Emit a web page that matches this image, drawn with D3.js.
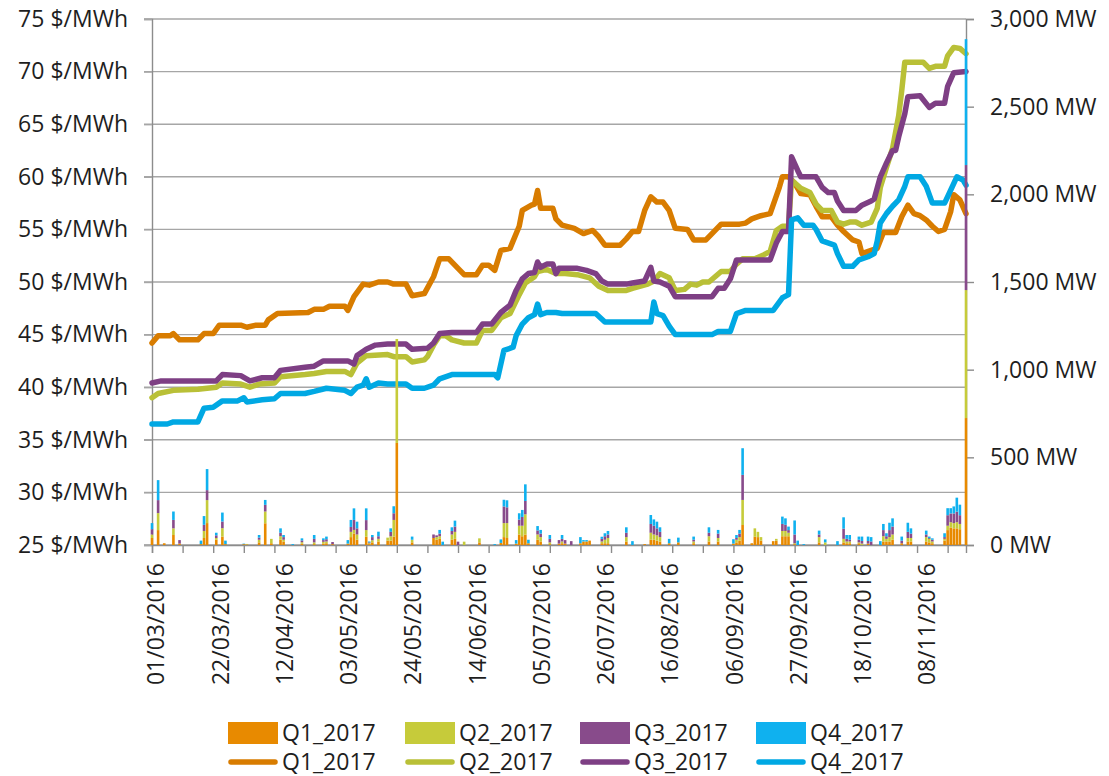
<!DOCTYPE html>
<html><head><meta charset="utf-8">
<script src="https://cdn.jsdelivr.net/npm/d3@7"></script>
<style>
body{margin:0;background:#fff}
svg text{font-family:"Open Sans",sans-serif;fill:#1e1e1e;font-size:23px}
</style>
</head><body>
<svg id="chart" width="1109" height="776"></svg>
<script>
// ---------- data ----------
const START = "2016-03-01";
const END = "2016-11-22";
const seriesNames = ["Q1_2017", "Q2_2017", "Q3_2017", "Q4_2017"];
const priceTicks = [25, 30, 35, 40, 45, 50, 55, 60, 65, 70, 75];
const mwTicks = [0, 500, 1000, 1500, 2000, 2500, 3000];

// price lines: [days after START, $/MWh]
const q1Price = [[0,44.2],[2,44.9],[6,44.9],[7,45.1],[9,44.5],[15,44.5],[17,45.1],[20,45.1],[22,45.9],[29,45.9],[31,45.7],[34,45.9],[37,45.9],[38,46.4],[41,47.0],[51,47.1],[53,47.4],[56,47.4],[58,47.7],[63,47.7],[64,47.3],[66,48.6],[69,49.8],[71,49.7],[74,50.0],[77,50.0],[79,49.8],[83,49.8],[85,48.7],[89,48.9],[92,50.5],[94,52.2],[97,52.2],[100,51.3],[102,50.7],[106,50.7],[108,51.6],[110,51.6],[112,51.1],[114,53.0],[117,53.2],[120,55.3],[121,56.8],[124,57.3],[125,57.4],[126,58.7],[127,57.0],[131,57.0],[132,56.0],[134,55.4],[138,55.1],[141,54.6],[144,54.9],[146,54.3],[148,53.5],[153,53.5],[155,54.1],[157,54.8],[159,54.8],[161,56.8],[163,58.1],[165,57.6],[167,57.6],[169,56.8],[171,55.1],[175,55.0],[177,54.0],[181,54.0],[183,54.6],[186,55.5],[192,55.5],[194,55.6],[196,56.0],[199,56.3],[202,56.5],[205,59.0],[206,60.0],[208,60.0],[210,59.4],[212,58.4],[215,58.3],[217,57.2],[219,56.2],[222,56.2],[224,55.4],[226,54.8],[229,54.0],[231,53.8],[232,52.7],[235,53.0],[237,53.2],[239,54.7],[243,54.7],[245,56.2],[247,57.3],[249,56.5],[251,56.3],[253,55.9],[255,55.3],[257,54.8],[259,55.0],[261,56.7],[262,58.3],[264,57.8],[266,56.5]];
const q2Price = [[0,39.0],[2,39.4],[7,39.7],[15,39.8],[21,40.0],[23,40.4],[29,40.3],[32,40.0],[35,40.3],[40,40.4],[42,41.0],[50,41.2],[53,41.3],[57,41.5],[63,41.5],[65,41.2],[67,42.3],[70,43.0],[77,43.1],[79,42.9],[83,42.9],[85,42.4],[89,42.6],[90,42.9],[92,44.0],[94,44.9],[96,44.9],[98,44.5],[102,44.2],[106,44.2],[108,45.4],[111,45.4],[114,46.6],[117,47.0],[120,48.8],[122,49.9],[125,50.5],[126,51.0],[129,51.2],[132,50.8],[135,50.8],[139,50.7],[143,50.4],[146,49.6],[149,49.2],[155,49.2],[157,49.4],[162,49.8],[164,50.1],[166,50.8],[169,50.4],[171,49.2],[174,49.3],[176,49.8],[178,49.7],[180,50.0],[182,50.0],[184,50.5],[186,51.0],[189,51.0],[191,51.7],[193,52.2],[197,52.2],[200,52.6],[202,52.9],[204,54.9],[206,55.3],[208,55.3],[209,59.7],[212,58.9],[215,58.5],[217,57.4],[219,56.8],[222,56.8],[224,55.7],[226,55.5],[228,55.7],[230,55.7],[232,55.4],[235,55.7],[237,57.0],[238,59.0],[240,60.9],[242,62.7],[244,65.8],[245,68.2],[246,70.9],[252,70.9],[254,70.3],[256,70.5],[259,70.5],[260,71.5],[262,72.3],[264,72.2],[266,71.7]];
const q3Price = [[0,40.4],[3,40.6],[10,40.6],[21,40.6],[23,41.2],[29,41.1],[32,40.6],[36,40.9],[40,40.9],[42,41.6],[50,41.9],[53,42.0],[56,42.5],[64,42.5],[66,42.2],[67,43.0],[70,43.6],[73,44.0],[77,44.1],[83,44.1],[85,43.6],[90,43.7],[92,44.2],[94,45.1],[98,45.2],[106,45.2],[108,46.0],[111,46.0],[114,47.1],[117,47.8],[119,49.2],[121,50.3],[123,50.8],[125,50.9],[126,51.9],[127,51.4],[129,51.7],[131,51.7],[132,50.8],[133,51.3],[139,51.3],[142,51.1],[145,50.8],[147,50.1],[149,49.8],[155,49.8],[157,49.9],[161,50.1],[163,51.4],[164,50.1],[166,50.0],[169,49.6],[171,48.6],[183,48.6],[185,49.4],[187,49.4],[189,50.3],[191,52.1],[202,52.1],[204,53.7],[206,54.8],[208,54.8],[209,61.9],[211,60.6],[212,60.0],[217,60.0],[219,59.0],[221,58.5],[223,58.5],[224,57.7],[226,56.8],[230,56.8],[232,57.3],[235,57.7],[236,57.9],[238,60.0],[240,61.3],[242,62.5],[243,62.5],[244,63.8],[246,66.0],[247,67.6],[251,67.7],[254,66.6],[256,67.0],[259,67.0],[260,68.6],[262,69.9],[266,70.0]];
const q4Price = [[0,36.5],[5,36.5],[7,36.7],[15,36.7],[17,38.0],[20,38.1],[23,38.7],[28,38.7],[30,39.0],[31,38.6],[36,38.8],[40,38.9],[42,39.4],[50,39.4],[53,39.6],[57,39.9],[63,39.7],[65,39.4],[67,40.0],[69,40.2],[70,40.8],[71,40.0],[74,40.4],[77,40.3],[83,40.3],[85,39.9],[89,39.9],[92,40.2],[94,40.8],[98,41.2],[112,41.2],[113,40.9],[115,43.5],[118,43.8],[119,44.9],[121,46.0],[123,46.6],[125,46.9],[126,47.9],[127,46.9],[129,47.1],[132,47.1],[134,47.0],[145,47.0],[148,46.2],[163,46.2],[164,48.1],[165,47.0],[167,46.8],[169,45.8],[171,45.0],[183,45.0],[185,45.3],[189,45.3],[191,47.0],[194,47.3],[203,47.3],[206,48.5],[208,48.8],[209,55.9],[211,56.1],[213,55.4],[216,55.4],[217,55.0],[219,53.9],[223,53.5],[224,52.7],[226,51.5],[229,51.5],[231,52.1],[234,52.4],[236,52.7],[237,53.9],[238,55.6],[240,56.5],[242,57.2],[244,57.8],[246,59.1],[247,60.0],[251,60.0],[253,59.1],[255,57.5],[259,57.5],[260,58.1],[263,60.0],[265,59.7],[266,59.2]];

// traded volume bars (MW), days after START with activity
const barDays = [0,2,4,7,9,16,17,18,21,23,24,30,31,35,37,39,42,43,46,49,53,56,57,59,64,65,66,67,70,71,72,74,77,78,79,80,85,92,93,94,95,98,99,100,102,107,112,114,115,116,119,120,121,122,123,126,127,130,133,134,135,137,140,141,142,143,147,148,149,155,157,161,163,164,165,166,169,172,177,182,185,190,191,192,193,196,197,198,199,203,204,206,207,208,210,211,213,218,220,224,226,227,228,231,232,234,235,238,239,240,241,242,245,247,248,253,254,255,259,260,261,262,263,264,266];
const q1MW = [40,85,10,57,8,5,40,125,30,48,5,5,3,15,124,10,30,20,0,8,5,8,10,5,8,45,66,30,47,5,15,20,25,25,48,582,15,40,30,35,0,30,35,0,0,15,0,12,45,40,8,60,50,60,10,30,20,5,8,10,8,0,10,20,20,25,10,10,10,20,0,5,30,30,25,20,10,15,10,20,20,8,15,25,114,10,47,45,25,22,25,50,50,50,5,0,0,15,0,0,15,10,10,10,0,8,0,0,20,20,20,30,10,20,20,20,15,10,25,85,100,95,95,90,724];
const q2MW = [20,97,0,38,0,0,40,131,10,48,0,0,3,15,67,25,20,10,0,8,10,10,10,0,0,30,20,30,38,5,12,15,17,25,95,593,15,0,15,15,0,30,40,0,19,23,0,0,80,85,0,50,60,115,0,30,25,10,0,10,0,0,0,0,0,0,10,20,30,25,0,0,40,30,30,25,0,0,10,30,20,0,15,20,143,0,48,30,20,0,10,30,30,20,5,0,0,30,15,0,20,10,10,5,8,0,0,0,30,15,25,30,0,20,20,25,20,10,10,25,30,30,35,30,730];
const q3MW = [30,74,0,48,20,0,35,57,15,38,0,0,0,12,38,0,20,15,0,10,20,10,13,12,0,28,57,35,57,5,18,15,0,25,38,0,0,20,10,15,0,20,30,19,0,0,0,0,95,90,0,35,50,76,0,23,20,20,20,15,20,22,0,0,0,0,15,20,20,25,0,0,50,50,40,30,0,0,10,20,25,0,10,20,143,0,0,0,0,0,0,40,35,15,50,0,0,15,0,0,58,15,10,15,15,15,20,0,35,15,40,45,15,35,25,15,5,10,10,60,50,55,60,50,713];
const q4MW = [35,114,0,48,0,20,50,120,15,51,20,3,0,15,28,0,25,12,5,12,22,10,15,0,20,40,66,38,67,5,12,26,0,20,40,0,18,0,0,21,19,21,34,0,0,0,5,20,38,40,20,36,40,95,20,25,21,22,0,22,0,0,35,8,8,0,12,17,20,31,22,0,51,36,38,26,25,27,18,31,21,25,17,21,152,0,0,0,0,0,0,42,37,20,80,25,5,22,17,22,65,22,27,18,25,25,25,22,35,17,42,47,23,52,30,22,8,8,22,40,30,40,80,60,718];

// ---------- layout ----------
const colorsBar  = ["#E88A00", "#C6CB3A", "#884B8B", "#0FB1EF"];
const colorsLine = ["#D87C00", "#B9C037", "#7E3F84", "#00A8E3"];
const L = 152, R = 966, T = 19, B = 545;

const svg = d3.select("#chart");
const parse = d3.utcParse("%Y-%m-%d");
const start = parse(START), end = parse(END);
const dayDate = d => d3.utcDay.offset(start, d);

const x = d3.scaleUtc().domain([start, end]).range([L, R]);
const y = d3.scaleLinear().domain([25, 75]).range([B, T]);
const yR = d3.scaleLinear().domain([0, 3000]).range([B, T]);

// gridlines
svg.append("g").selectAll("line").data(priceTicks).join("line")
  .attr("x1", L - 8).attr("x2", R).attr("y1", d => y(d)).attr("y2", d => y(d))
  .attr("stroke", "#A6A6A6").attr("stroke-width", 1.4);

// left axis
const gl = svg.append("g").attr("transform", `translate(${L},0)`)
  .call(d3.axisLeft(y).tickValues(priceTicks).tickSize(8).tickPadding(16).tickFormat(d => d + " $/MWh"));
gl.select(".domain").attr("stroke", "#8C8C8C").attr("stroke-width", 1.4);
gl.selectAll(".tick line").attr("stroke", "#A6A6A6").attr("stroke-width", 1.4);
gl.selectAll("text").attr("font-size", 23).attr("fill", "#1e1e1e").attr("font-family", "Open Sans");

// right axis
const gr = svg.append("g").attr("transform", `translate(${R},0)`)
  .call(d3.axisRight(yR).tickValues(mwTicks).tickSize(8).tickPadding(16).tickFormat(d => d3.format(",")(d) + " MW"));
gr.select(".domain").attr("stroke", "#8C8C8C").attr("stroke-width", 1.4);
gr.selectAll(".tick line").attr("stroke", "#8C8C8C").attr("stroke-width", 1.4);
gr.selectAll("text").attr("font-size", 23).attr("fill", "#1e1e1e").attr("font-family", "Open Sans");

// bottom axis
const tickDates = d3.range(0, 267, 10).map(dayDate);
const labelDates = d3.range(0, 267, 21).map(dayDate);
const gb = svg.append("g").attr("transform", `translate(0,${B})`)
  .call(d3.axisBottom(x).tickValues(tickDates).tickSize(8).tickFormat(""));
gb.select(".domain").attr("stroke", "#8C8C8C").attr("stroke-width", 1.4);
gb.selectAll(".tick line").attr("stroke", "#8C8C8C").attr("stroke-width", 1.4);
const fmt = d3.utcFormat("%d/%m/%Y");
svg.append("g").selectAll("text").data(labelDates).join("text")
  .attr("transform", d => `translate(${x(d) + 4},563) rotate(-90)`)
  .attr("text-anchor", "end").attr("dy", "0.36em")
  .text(d => fmt(d));

// lines
const line = d3.line().x(d => x(dayDate(d[0]))).y(d => y(d[1]));
[q1Price, q2Price, q3Price, q4Price].forEach((s, i) => {
  svg.append("path").datum(s).attr("d", line)
    .attr("fill", "none").attr("stroke", colorsLine[i]).attr("stroke-width", 5.5)
    .attr("stroke-linejoin", "round").attr("stroke-linecap", "round");
});

// stacked bars
const barRows = barDays.map((d, i) => ({day: d, Q1: q1MW[i], Q2: q2MW[i], Q3: q3MW[i], Q4: q4MW[i]}));
const stack = d3.stack().keys(["Q1", "Q2", "Q3", "Q4"])(barRows);
const bw = 2.6;
stack.forEach((layer, i) => {
  svg.append("g").selectAll("rect").data(layer.filter(p => p[1] > p[0])).join("rect")
    .attr("x", p => x(dayDate(p.data.day)) - bw / 2)
    .attr("width", bw)
    .attr("y", p => yR(p[1]))
    .attr("height", p => yR(p[0]) - yR(p[1]))
    .attr("fill", colorsBar[i]);
});

// legend
const legX = [228, 405, 580, 756];
const lg = svg.append("g");
seriesNames.forEach((n, i) => {
  lg.append("rect").attr("x", legX[i]).attr("y", 722).attr("width", 50).attr("height", 22)
    .attr("fill", colorsBar[i]);
  lg.append("text").attr("x", legX[i] + 54).attr("y", 733).attr("dy", "0.36em").text(n);
  lg.append("line").attr("x1", legX[i] + 3).attr("x2", legX[i] + 47).attr("y1", 762).attr("y2", 762)
    .attr("stroke", colorsLine[i]).attr("stroke-width", 5.5).attr("stroke-linecap", "round");
  lg.append("text").attr("x", legX[i] + 54).attr("y", 762).attr("dy", "0.36em").text(n);
});
</script>
</body></html>
